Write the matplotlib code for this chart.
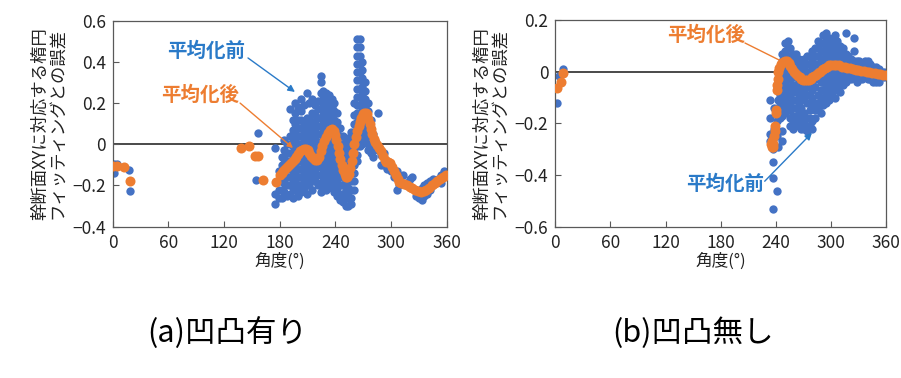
import matplotlib
matplotlib.use("Agg")
import matplotlib.pyplot as plt

plt.rcParams['font.family'] = ['Noto Sans CJK JP', 'DejaVu Sans']

# ---------------- data ----------------
xticks = [0, 60, 120, 180, 240, 300, 360]
yticks_a = [-0.4, -0.2, 0, 0.2, 0.4, 0.6]
yticklabels_a = ['−0.4', '−0.2', '0', '0.2', '0.4', '0.6']
yticks_b = [-0.6, -0.4, -0.2, 0, 0.2]
yticklabels_b = ['−0.6', '−0.4', '−0.2', '0', '0.2']

ylabel = '幹断面XYに対応する楕円\nフィッティングとの誤差'
xlabel = '角度(°)'
label_before = '平均化前'
label_after = '平均化後'
caption_a = '(a)凹凸有り'
caption_b = '(b)凹凸無し'

# (a) with roughness: before averaging (blue), columns of (angle, errors)
blue_a_columns = [
    (1, [-0.096, -0.141]), (5, [-0.096]), (18, [-0.125]), (19, [-0.228]),
    (154, [-0.173]), (157, [0.056]),
    (175, [-0.02, -0.24, -0.29]),
    (179, [-0.13, -0.18, -0.22, -0.26]),
    (182, [-0.06, -0.10, -0.14, -0.18, -0.22, -0.26]),
    (185, [0.02, -0.03, -0.07, -0.11, -0.15, -0.19, -0.23]),
    (188, [0.00, -0.04, -0.08, -0.12, -0.16, -0.20, -0.25]),
    (191, [0.17, 0.04, 0.00, -0.04, -0.08, -0.12, -0.16, -0.20, -0.24]),
    (194, [0.12, 0.07, 0.03, -0.01, -0.05, -0.09, -0.13, -0.17, -0.21, -0.26]),
    (197, [0.20, 0.15, 0.10, 0.06, 0.02, -0.02, -0.06, -0.10, -0.14, -0.18, -0.22]),
    (200, [0.18, 0.12, 0.08, 0.04, 0.00, -0.04, -0.08, -0.12, -0.16, -0.20, -0.25]),
    (203, [0.22, 0.16, 0.12, 0.08, 0.04, 0.00, -0.04, -0.08, -0.12, -0.16, -0.20, -0.23]),
    (206, [0.19, 0.10, 0.06, 0.02, -0.02, -0.06, -0.10, -0.14, -0.18, -0.21]),
    (209, [0.25, 0.13, 0.09, 0.05, 0.01, -0.03, -0.07, -0.11, -0.15, -0.19, -0.24]),
    (212, [0.20, 0.12, 0.08, 0.04, 0.00, -0.04, -0.08, -0.12, -0.16, -0.20]),
    (215, [0.22, 0.15, 0.11, 0.07, 0.03, -0.01, -0.05, -0.09, -0.13, -0.17, -0.22]),
    (218, [0.19, 0.14, 0.10, 0.06, 0.02, -0.02, -0.06, -0.10, -0.14, -0.18]),
    (221, [0.21, 0.17, 0.13, 0.09, 0.05, 0.01, -0.03, -0.07, -0.11, -0.15, -0.20]),
    (224, [0.33, 0.30, 0.25, 0.21, 0.17, 0.13, 0.09, 0.05, 0.01, -0.03, -0.07, -0.11,
           -0.15, -0.19, -0.23]),
    (227, [0.26, 0.22, 0.18, 0.14, 0.10, 0.06, 0.02, -0.02, -0.06, -0.10, -0.14, -0.18,
           -0.21]),
    (230, [0.25, 0.21, 0.17, 0.13, 0.09, 0.05, 0.01, -0.03, -0.07, -0.11, -0.15, -0.19,
           -0.22]),
    (233, [0.24, 0.20, 0.16, 0.12, 0.08, 0.04, 0.00, -0.04, -0.08, -0.12, -0.16, -0.19]),
    (236, [0.22, 0.18, 0.14, 0.10, 0.06, 0.02, -0.02, -0.06, -0.10, -0.14, -0.18, -0.21]),
    (239, [0.20, 0.16, 0.12, 0.08, 0.04, 0.00, -0.04, -0.08, -0.12, -0.16, -0.20, -0.23]),
    (242, [0.15, 0.11, 0.07, 0.03, -0.01, -0.05, -0.09, -0.13, -0.17, -0.21, -0.25]),
    (245, [0.08, 0.04, 0.00, -0.04, -0.08, -0.12, -0.16, -0.20, -0.24, -0.27]),
    (248, [0.04, 0.00, -0.04, -0.08, -0.12, -0.16, -0.20, -0.24, -0.28]),
    (251, [0.02, -0.02, -0.06, -0.10, -0.14, -0.18, -0.22, -0.26, -0.30]),
    (254, [0.03, -0.01, -0.05, -0.09, -0.13, -0.17, -0.21, -0.25, -0.30]),
    (257, [0.06, 0.02, -0.02, -0.06, -0.10, -0.14, -0.18, -0.22, -0.26, -0.29]),
    (260, [0.20, 0.14, 0.10, 0.06, 0.02, -0.02, -0.06, -0.10, -0.14, -0.18, -0.22]),
    (263, [0.51, 0.47, 0.43, 0.39, 0.35, 0.31, 0.27, 0.23, 0.19, 0.15, 0.11, 0.07, 0.03,
           -0.01, -0.05, -0.08]),
    (266, [0.51, 0.47, 0.43, 0.39, 0.35, 0.31, 0.27, 0.23, 0.19, 0.15, 0.11, 0.07, 0.03,
           -0.01]),
    (269, [0.40, 0.36, 0.32, 0.28, 0.24, 0.20, 0.16, 0.12, 0.08, 0.04, 0.00]),
    (272, [0.30, 0.26, 0.22, 0.18, 0.14, 0.10, 0.06, 0.02]),
    (275, [0.20, 0.16, 0.12, 0.08, 0.04, 0.00, -0.03]),
    (278, [0.12, 0.08, 0.04, 0.00, -0.04]),
    (281, [0.05, 0.01, -0.03, -0.06]),
    (286, [0.15, -0.03]),
    (289, [-0.05, -0.10]),
    (292, [-0.04, -0.10]),
    (296, [-0.08, -0.12]),
    (300, [-0.10, -0.13]),
    (303, [-0.16]),
    (306, [-0.13, -0.22]),
    (309, [-0.20]),
    (313, [-0.15]),
    (316, [-0.19]),
    (320, [-0.17]),
    (323, [-0.16]),
    (327, [-0.25, -0.22]),
    (330, [-0.26, -0.23]),
    (333, [-0.27, -0.21]),
    (336, [-0.20, -0.25]),
    (339, [-0.19, -0.24]),
    (342, [-0.18, -0.22]),
    (345, [-0.17, -0.20]),
    (348, [-0.18]),
    (351, [-0.17]),
    (354, [-0.15, -0.19]),
    (357, [-0.13]),
    (360, [-0.15]),
]

# (a) after averaging (orange)
orange_a_deg = [0.7, 4.3, 12.2, 18.6, 138, 147, 153.7, 156.6, 162, 176.5,
                180, 182, 184, 186, 188, 190, 192, 194, 196, 198, 200, 202, 204, 206,
                208, 210, 212, 214, 216, 218, 220, 222, 224, 226, 228, 230, 232, 234,
                236, 238, 239.5, 241, 242.5, 244, 245.5, 247, 248.5, 250, 251.5, 253,
                254.5, 256, 257.5, 259, 260.5, 262, 263.5, 265, 266.5, 268, 269.5, 271,
                272.5, 274, 275.5, 277, 278.5, 280, 281.5, 283, 285, 287, 289, 291,
                293, 295, 297, 299, 301, 303, 305, 307, 309, 311, 314, 317, 320, 323,
                326, 329, 332, 335, 338, 341, 344, 347, 350, 353, 356, 359]
orange_a_err = [-0.105, -0.105, -0.112, -0.177, -0.018, -0.008, -0.057, -0.057, -0.175, -0.185,
                -0.15, -0.14, -0.13, -0.12, -0.11, -0.10, -0.09, -0.08, -0.07, -0.06, -0.045,
                -0.035, -0.028, -0.022, -0.022, -0.03, -0.042, -0.055, -0.068, -0.078, -0.075,
                -0.06, -0.035, -0.01, 0.015, 0.035, 0.055, 0.068, 0.072, 0.065, 0.045, 0.02,
                -0.01, -0.04, -0.07, -0.10, -0.125, -0.145, -0.158, -0.16, -0.145, -0.115,
                -0.08, -0.04, 0.0, 0.035, 0.065, 0.09, 0.11, 0.13, 0.145, 0.152, 0.152, 0.145,
                0.125, 0.10, 0.075, 0.05, 0.025, 0.01, -0.005, -0.02, -0.035, -0.055, -0.075,
                -0.085, -0.085, -0.09, -0.11, -0.13, -0.15, -0.17, -0.185, -0.19, -0.195,
                -0.20, -0.205, -0.21, -0.22, -0.228, -0.232, -0.228, -0.22, -0.21, -0.20,
                -0.19, -0.178, -0.168, -0.158, -0.15]

# (b) without roughness: before averaging (blue)
blue_b_columns = [
    (1.5, [-0.12]), (4.4, [-0.017]), (8, [0.009]),
    (234, [-0.11, -0.18, -0.24, -0.27]),
    (236.5, [-0.35, -0.41, -0.53, -0.30]),
    (238, [-0.14, -0.22]),
    (241, [-0.46, -0.25, -0.19]),
    (243, [-0.29, -0.17, -0.11]),
    (245, [0.00, -0.03, -0.06, -0.09, -0.12, -0.15, -0.18]),
    (247, [0.07, 0.04, 0.01, -0.02, -0.05, -0.08, -0.11, -0.14, -0.17, -0.23, -0.27]),
    (250, [0.11, 0.08, 0.05, 0.02, -0.01, -0.04, -0.07, -0.10, -0.13, -0.16]),
    (253, [0.12, 0.09, 0.06, 0.03, 0.00, -0.03, -0.06, -0.09, -0.12, -0.15]),
    (256, [0.09, 0.06, 0.03, 0.00, -0.03, -0.06, -0.09, -0.12, -0.15, -0.18, -0.21]),
    (259, [0.07, 0.04, 0.01, -0.02, -0.05, -0.08, -0.11, -0.14, -0.17, -0.20, -0.22]),
    (262, [0.07, 0.04, 0.01, -0.02, -0.05, -0.08, -0.11, -0.14, -0.17, -0.20]),
    (265, [0.05, 0.02, -0.01, -0.04, -0.07, -0.10, -0.13, -0.16, -0.19, -0.21]),
    (268, [0.04, 0.01, -0.02, -0.05, -0.08, -0.11, -0.14, -0.17, -0.20, -0.22]),
    (271, [0.05, 0.02, -0.01, -0.04, -0.07, -0.10, -0.16, -0.19, -0.22]),
    (274, [0.06, 0.03, 0.00, -0.03, -0.06, -0.09, -0.12, -0.18, -0.21, -0.23]),
    (277, [0.06, 0.03, 0.00, -0.03, -0.06, -0.09, -0.15, -0.18, -0.21]),
    (280, [0.08, 0.05, 0.02, -0.01, -0.04, -0.07, -0.10, -0.13, -0.19, -0.22]),
    (283, [0.09, 0.06, 0.03, 0.00, -0.03, -0.06, -0.12, -0.15, -0.18]),
    (286, [0.12, 0.09, 0.06, 0.03, 0.00, -0.03, -0.09, -0.12, -0.15]),
    (289, [0.11, 0.08, 0.05, 0.02, -0.01, -0.04, -0.07, -0.10, -0.13, -0.16]),
    (292, [0.14, 0.11, 0.08, 0.05, 0.02, -0.01, -0.04, -0.07, -0.10, -0.13]),
    (295, [0.15, 0.12, 0.09, 0.06, 0.03, 0.00, -0.03, -0.06, -0.09, -0.12]),
    (298, [0.13, 0.10, 0.07, 0.04, 0.01, -0.02, -0.05, -0.08, -0.11]),
    (301, [0.12, 0.09, 0.06, 0.03, 0.00, -0.03, -0.06, -0.09]),
    (304, [0.14, 0.11, 0.08, 0.05, 0.02, -0.01, -0.04, -0.07, -0.10]),
    (307, [0.12, 0.09, 0.06, 0.03, 0.00, -0.03, -0.06]),
    (310, [0.10, 0.07, 0.04, 0.01, -0.02, -0.05, -0.08]),
    (313, [0.09, 0.06, 0.03, 0.00, -0.03, -0.05]),
    (316, [0.15, 0.07, 0.04, 0.01, -0.02, -0.04]),
    (319, [0.06, 0.03, 0.00, -0.03]),
    (322, [0.05, 0.02, -0.01, -0.03]),
    (325, [0.13, 0.08, 0.04, 0.01, -0.02]),
    (328, [0.04, 0.01, -0.02, -0.04]),
    (331, [0.04, 0.01, -0.02, -0.03]),
    (334, [0.03, 0.00, -0.03]),
    (337, [0.04, 0.01, -0.02]),
    (340, [0.04, 0.02, -0.01, -0.03]),
    (343, [0.03, 0.00, -0.03]),
    (346, [0.02, -0.01, -0.04]),
    (349, [0.02, -0.01, -0.04]),
    (352, [0.01, -0.02, -0.04]),
    (355, [0.00, -0.02]),
    (358, [0.00, -0.02]),
]

# (b) after averaging (orange)
orange_b_deg = [1.5, 5.9, 8.7, 235, 235.5, 236, 236.5, 237, 238, 239, 239.5, 240, 240.5,
                241, 241.5, 242, 243, 244, 246, 248, 250, 252, 254, 256, 258, 260, 262,
                264, 266, 268, 270, 272, 274, 276, 278, 280, 282, 284, 286, 288, 290, 292,
                294, 296, 298, 300, 303, 306, 309, 312, 315, 318, 321, 324, 327, 330, 333,
                336, 339, 342, 345, 348, 351, 354, 357, 360]
orange_b_err = [-0.064, -0.041, -0.004, -0.28, -0.29, -0.27, -0.29, -0.28, -0.25, -0.21,
                -0.23, -0.16, -0.15, -0.07, -0.05, -0.03, 0.0, 0.015, 0.03, 0.037, 0.04,
                0.04, 0.033, 0.022, 0.01, 0.0, -0.01, -0.017, -0.022, -0.027, -0.031,
                -0.033, -0.033, -0.031, -0.027, -0.022, -0.017, -0.012, -0.006, -0.001,
                0.005, 0.01, 0.016, 0.02, 0.024, 0.026, 0.026, 0.026, 0.024, 0.02, 0.017,
                0.015, 0.013, 0.011, 0.008, 0.006, 0.004, 0.002, 0.0, -0.002, -0.004,
                -0.006, -0.008, -0.01, -0.012, -0.013]

# ---------------- styling ----------------
BLUE = '#4472C4'
ORANGE = '#ED7D31'
ANN_BLUE = '#2A7AC8'
FRAME = '#595959'


def explode(columns):
    xs, ys = [], []
    for a, vals in columns:
        for v in vals:
            xs.append(a)
            ys.append(v)
    return xs, ys


fig = plt.figure(figsize=(9.01, 3.78), dpi=100)
ax_a = fig.add_axes([0.1251, 0.4003, 0.3707, 0.5450])
ax_b = fig.add_axes([0.6163, 0.4003, 0.3670, 0.5468])


def style(ax, yticks, ylabels, ylim):
    ax.set_xlim(0, 360)
    ax.set_ylim(*ylim)
    ax.set_xticks(xticks)
    ax.set_xticklabels([str(t) for t in xticks])
    ax.set_yticks(yticks)
    ax.set_yticklabels(ylabels)
    ax.tick_params(direction='in', length=4, width=0.8, colors=FRAME,
                   labelcolor='#222222', labelsize=12.5, pad=5)
    for s in ax.spines.values():
        s.set_color(FRAME)
        s.set_linewidth(0.9)
    ax.axhline(0, color='#3a3a3a', lw=1.3, zorder=1)
    ax.set_xlabel(xlabel, fontsize=12, labelpad=1, color='#222222')
    ax.set_ylabel(ylabel, fontsize=12.5, labelpad=4, color='#222222',
                  linespacing=1.0)


style(ax_a, yticks_a, yticklabels_a, (-0.4, 0.6))
style(ax_b, yticks_b, yticklabels_b, (-0.6, 0.2))

bx, by = explode(blue_a_columns)
ax_a.scatter(bx, by, s=36, color=BLUE, linewidths=0, zorder=2)
ax_a.scatter(orange_a_deg, orange_a_err, s=52, color=ORANGE, linewidths=0, zorder=3)

bx, by = explode(blue_b_columns)
ax_b.scatter(bx, by, s=36, color=BLUE, linewidths=0, zorder=2)
ax_b.scatter(orange_b_deg, orange_b_err, s=52, color=ORANGE, linewidths=0, zorder=3)

# annotations (a)
ax_a.text(100.5, 0.453, label_before, color=ANN_BLUE, fontsize=14, fontweight='bold',
          ha='center', va='center', zorder=5)
ax_a.annotate('', xy=(196.4, 0.254), xytext=(145.8, 0.419),
              arrowprops=dict(arrowstyle='-|>', color=ANN_BLUE, lw=1.0,
                              mutation_scale=10, shrinkA=0, shrinkB=0), zorder=5)
ax_a.text(94, 0.239, label_after, color=ORANGE, fontsize=14, fontweight='bold',
          ha='center', va='center', zorder=5)
ax_a.annotate('', xy=(194.3, -0.018), xytext=(137.3, 0.20),
              arrowprops=dict(arrowstyle='-|>', color=ORANGE, lw=1.0,
                              mutation_scale=8, shrinkA=0, shrinkB=0), zorder=5)

# annotations (b)
ax_b.text(164, 0.142, label_after, color=ORANGE, fontsize=14, fontweight='bold',
          ha='center', va='center', zorder=5)
ax_b.annotate('', xy=(250, 0.034), xytext=(206.5, 0.111),
              arrowprops=dict(arrowstyle='-', color=ORANGE, lw=1.0,
                              shrinkA=0, shrinkB=0), zorder=5)
ax_b.text(184.7, -0.435, label_before, color=ANN_BLUE, fontsize=14, fontweight='bold',
          ha='center', va='center', zorder=5)
ax_b.annotate('', xy=(279.4, -0.237), xytext=(228, -0.424),
              arrowprops=dict(arrowstyle='-|>', color=ANN_BLUE, lw=1.0,
                              mutation_scale=10, shrinkA=0, shrinkB=0), zorder=5)

# captions
fig.text(227 / 901, 1 - 333 / 378, caption_a, fontsize=22, ha='center', va='center')
fig.text(693 / 901, 1 - 333 / 378, caption_b, fontsize=22, ha='center', va='center')

fig.savefig('out.png', dpi=100)
